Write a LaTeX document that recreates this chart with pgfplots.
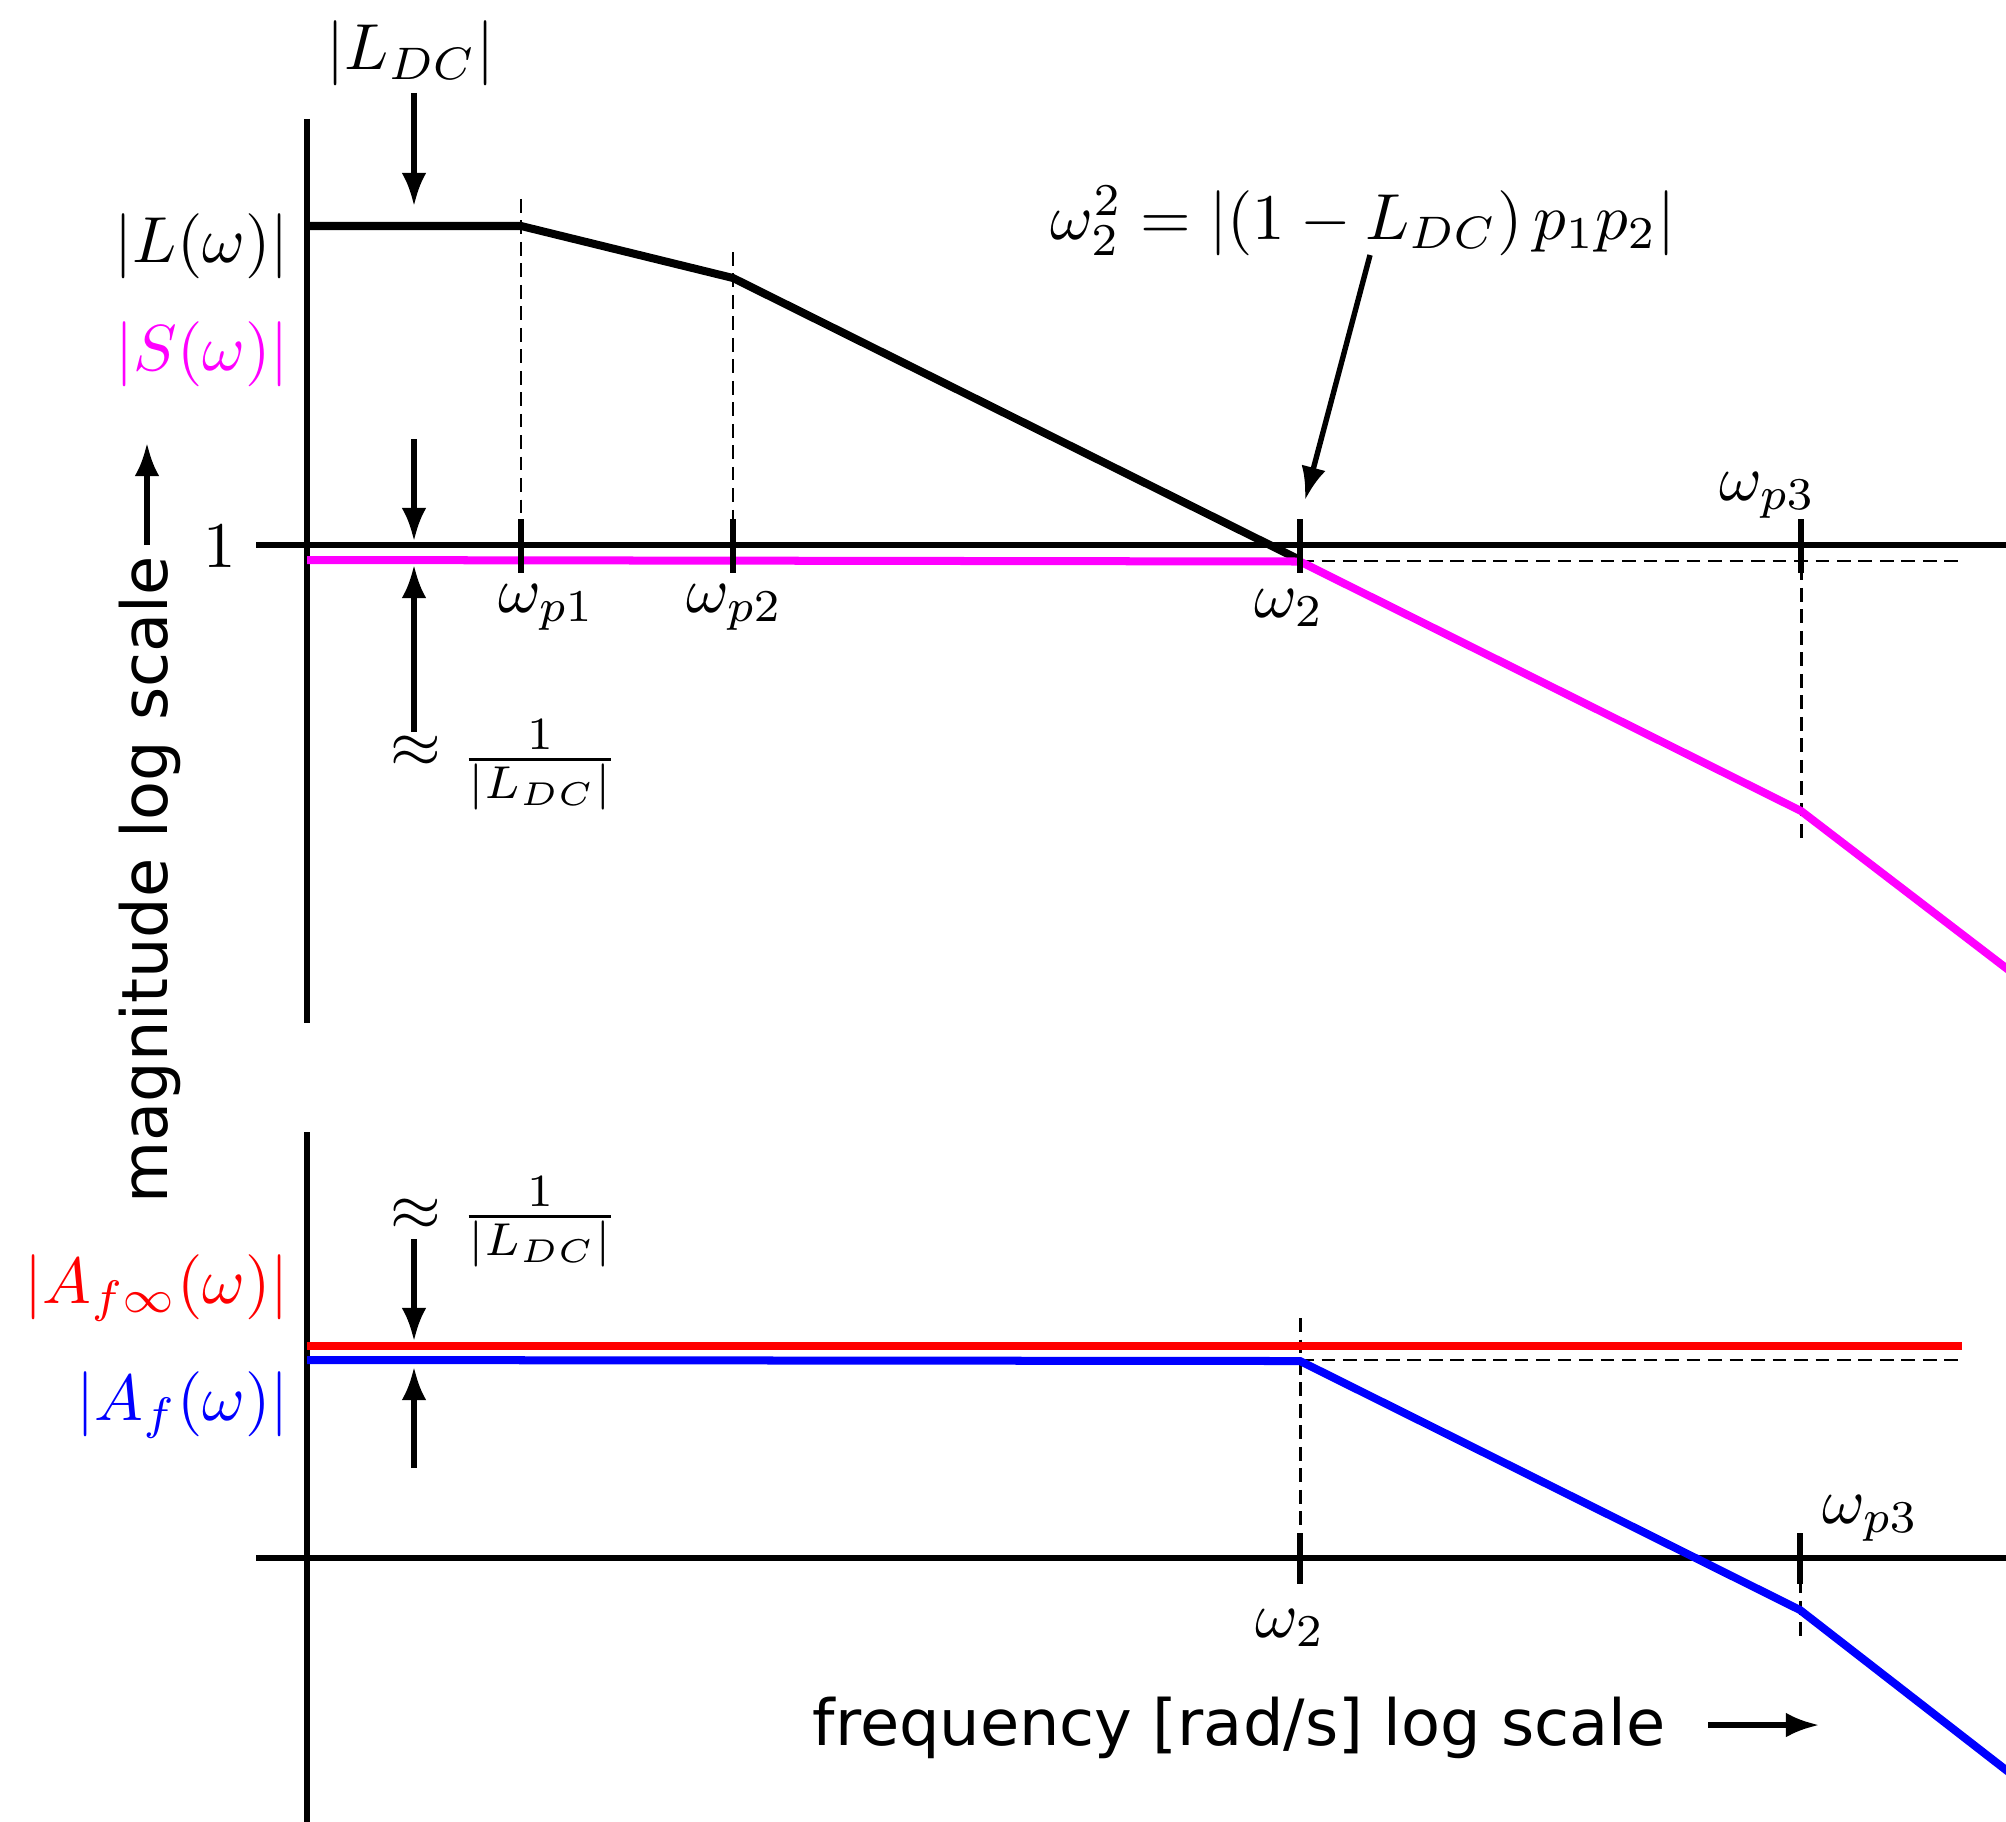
\documentclass[border=0pt]{standalone}
\usepackage{fontspec}
\setsansfont{DejaVu Sans}
\usepackage{graphicx}
\usepackage{pgfplots}
\usepackage{pgfplotstable}
\pgfplotsset{compat=1.18}
\usetikzlibrary{arrows.meta}

\definecolor{smag}{RGB}{255,0,255}
\definecolor{afred}{RGB}{255,0,0}
\definecolor{afblue}{RGB}{0,0,255}

% asymptotic magnitude curves (x: log frequency, y: log magnitude)
\pgfplotstableread{
x     y
0     3.19
2.14  3.19
4.26  2.67
9.93  -0.15
}\loopgain
\pgfplotstableread{
x     y
0     -0.15
9.93  -0.165
14.94 -2.66
16.99 -4.23
17.60 -4.70
}\sensitivity
\pgfplotstableread{
x     y
0     -8.01
16.55 -8.01
}\idealgain
\pgfplotstableread{
x     y
0     -8.15
9.93  -8.16
14.93 -10.65
16.99 -12.25
17.60 -12.72
}\closedgain

\newcommand{\invLdc}{\resizebox*{0.772cm}{0.486cm}{$\nulldelimiterspace=0pt\frac{1}{|L_{DC}|}$}}

\begin{document}
\begin{tikzpicture}[
  ax/.style={line width=0.82pt},
  curve/.style={line width=1.23pt},
  arr/.style={line width=0.83pt, -{Latex[length=5.1pt,width=3.8pt]}},
  guide/.style={line width=0.45pt, dash pattern=on 2.1pt off 1.2pt},
  lab/.style={inner sep=0pt},
  axlab/.style={inner sep=0pt, font=\fontsize{9.8}{12}\selectfont\sffamily},
]
\begin{axis}[
  hide axis,
  x=0.54cm, y=0.54cm,
  xmin=-3.07, xmax=16.99, ymin=-12.76, ymax=5.45,
  clip=true,
]
\coordinate (bl) at (rel axis cs:0,0);
\coordinate (tr) at (rel axis cs:1,1);

% ---------- upper panel: |L| and |S| ----------
\draw[ax] (0,4.26) -- (0,-4.78);
\draw[ax] (-0.51,0) -- (17.5,0);

\draw[guide] (2.14,3.46) -- (2.14,0);
\draw[guide] (4.26,2.93) -- (4.26,0);
\draw[guide] (9.93,-0.16) -- (16.55,-0.16);
\draw[guide] (14.94,0) -- (14.94,-2.95);

\addplot[black, curve] table[x=x,y=y] {\loopgain};
\addplot[smag, curve] table[x=x,y=y] {\sensitivity};

\draw[ax] (2.14,0.26) -- (2.14,-0.28);
\draw[ax] (4.26,0.26) -- (4.26,-0.28);
\draw[ax] (9.93,0.26) -- (9.93,-0.28);
\draw[ax] (14.94,0.26) -- (14.94,-0.28);

\node[lab] at (-0.87,-0.02) {$1$};
\node[lab, anchor=base west] at (1.90,-0.67) {$\omega_{p1}$};
\node[lab, anchor=base west] at (3.78,-0.67) {$\omega_{p2}$};
\node[lab, anchor=base west] at (9.46,-0.72) {$\omega_{2}$};
\node[lab, anchor=base west] at (14.11,0.45) {$\omega_{p3}$};

\node[lab, anchor=east] at (-0.17,2.99) {$|L(\omega)|$};
\node[lab, anchor=east, text=smag] at (-0.17,1.91) {$|S(\omega)|$};

\node[lab, anchor=base] at (1.035,4.75) {$|L_{DC}|$};
\draw[arr] (1.07,4.52) -- (1.07,3.39);

\draw[arr] (1.07,1.06) -- (1.07,0.04);
\draw[arr] (1.07,-1.87) -- (1.07,-0.20);
\node[lab] at (1.09,-2.07) {$\approx$};
\node[lab] at (2.33,-2.20) {\invLdc};

\node[lab, anchor=base] at (10.56,3.06) {$\omega_2^2 = \left|\left(1-L_{DC}\right)p_1p_2\right|$};
\draw[arr] (10.63,2.90) -- (9.98,0.45);

\node[axlab, rotate=90, anchor=base] at (-1.40,-3.35) {magnitude log scale};
\draw[arr] (-1.60,0.0) -- (-1.60,1.02);

% ---------- lower panel: |Af_inf| and |Af| ----------
\draw[ax] (0,-5.87) -- (0,-13.0);
\draw[ax] (-0.51,-10.13) -- (17.5,-10.13);

\draw[guide] (9.93,-7.73) -- (9.93,-10.13);
\draw[guide] (9.93,-8.15) -- (16.55,-8.15);
\draw[guide] (14.93,-10.13) -- (14.93,-10.92);

\addplot[afblue, curve] table[x=x,y=y] {\closedgain};
\addplot[afred, curve] table[x=x,y=y] {\idealgain};

\draw[ax] (9.93,-9.88) -- (9.93,-10.39);
\draw[ax] (14.93,-9.88) -- (14.93,-10.39);

\node[lab, anchor=base west] at (9.47,-10.92) {$\omega_{2}$};
\node[lab, anchor=base west] at (15.14,-9.78) {$\omega_{p3}$};

\node[lab, anchor=east, text=afred] at (-0.17,-7.43) {$|A_{f\infty}(\omega)|$};
\node[lab, anchor=east, text=afblue] at (-0.17,-8.60) {$|A_{f}(\omega)|$};

\node[lab] at (1.09,-6.70) {$\approx$};
\node[lab] at (2.33,-6.77) {\invLdc};
\draw[arr] (1.07,-6.94) -- (1.07,-7.96);
\draw[arr] (1.07,-9.23) -- (1.07,-8.22);

\node[axlab, anchor=base] at (9.32,-12.00) {frequency [rad/s] log scale};
\draw[arr] (14.01,-11.80) -- (15.12,-11.80);
\end{axis}
\pgfresetboundingbox
\path (bl) rectangle (tr);
\end{tikzpicture}
\end{document}
